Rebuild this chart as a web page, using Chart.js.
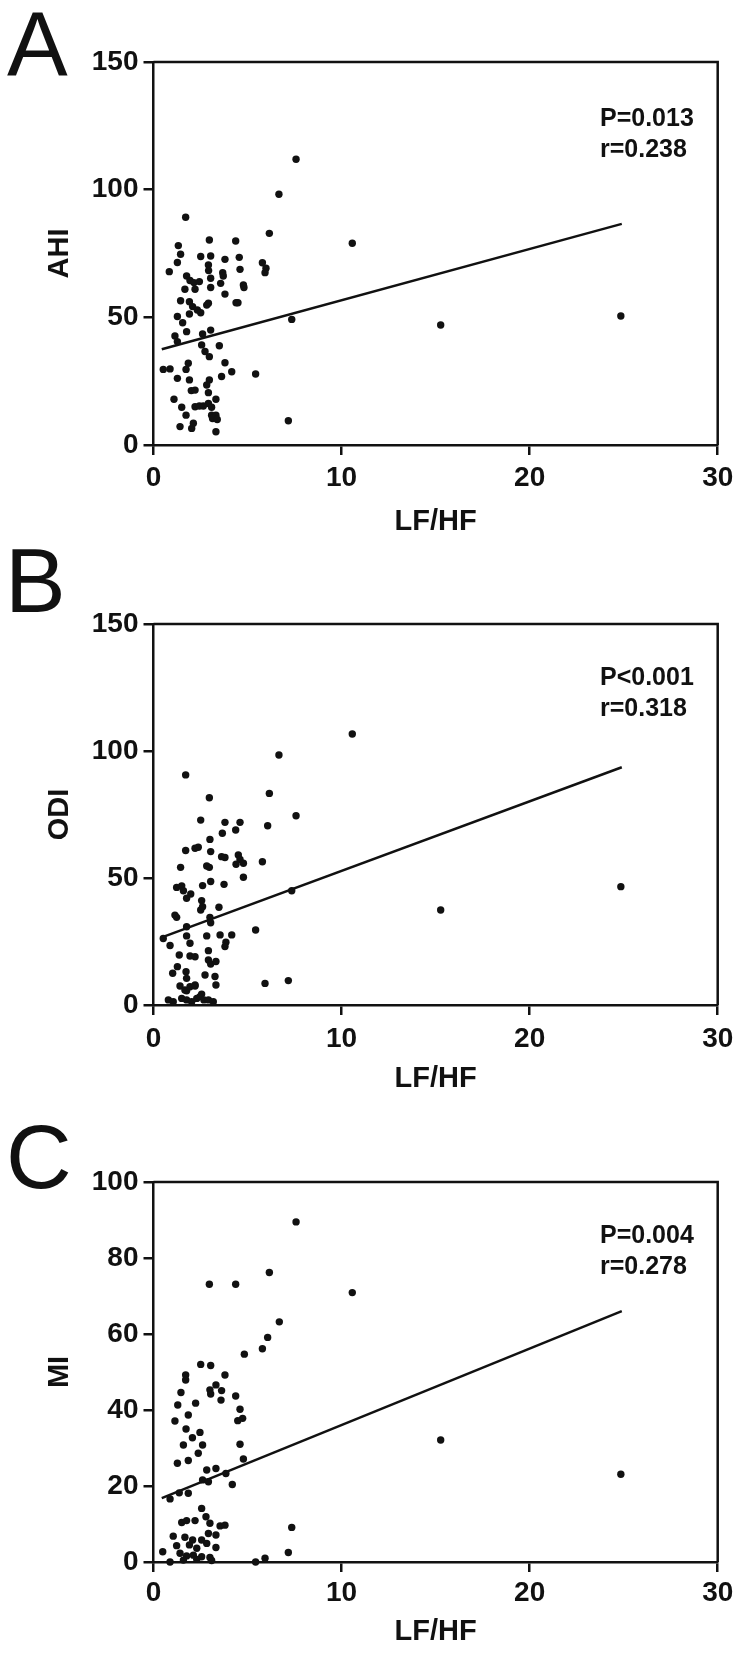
<!DOCTYPE html>
<html>
<head>
<meta charset="utf-8">
<title>LF/HF correlations</title>
<script src="https://cdn.jsdelivr.net/npm/chart.js"></script>
<style>
    html, body { margin: 0; padding: 0; background: #fff; }
    body { width: 743px; height: 1656px; position: relative; overflow: hidden; font-family: "Liberation Sans", Arial, sans-serif; color: #111; }
    .panel { position: absolute; left: 0; width: 743px; }
    .letter { position: absolute; font-size: 91px; line-height: 91px; }
    .stats { position: absolute; left: 600px; font-size: 25px; line-height: 31px; font-weight: bold; }
</style>
</head>
<body>

<div class="panel" style="top: 0px; height: 560px;"><canvas id="chartA" width="743" height="560"></canvas></div>
<div class="panel" style="top: 560px; height: 560px;"><canvas id="chartB" width="743" height="560"></canvas></div>
<div class="panel" style="top: 1120px; height: 536px;"><canvas id="chartC" width="743" height="536"></canvas></div>

<div class="letter" style="left: 7px; top: -2px;">A</div>
<div class="letter" style="left: 5px; top: 535px;">B</div>
<div class="letter" style="left: 6px; top: 1111px;">C</div>

<div class="stats" style="top: 102px;">P=0.013<br>r=0.238</div>
<div class="stats" style="top: 661px;">P&lt;0.001<br>r=0.318</div>
<div class="stats" style="top: 1219px;">P=0.004<br>r=0.278</div>

<script>
    // shared x axis
    const xTicks = [0, 10, 20, 30];

    // panel A: AHI
    const aLfhf = [7.58, 6.67, 1.71, 6.16, 10.57, 2.97, 4.37, 1.32, 1.44, 2.51, 3.04, 3.80, 4.56, 1.27, 0.84, 2.92, 2.93, 3.04, 3.68, 3.71,
        4.60, 5.79, 5.98, 5.93, 1.76, 1.94, 2.15, 2.44, 1.67, 2.21, 3.04, 3.57, 4.78, 4.81, 3.80, 4.39, 4.49, 1.44, 1.91, 2.83,
        2.92, 2.08, 2.33, 2.51, 1.91, 1.27, 1.55, 7.35, 1.76, 1.14, 2.61, 3.04, 1.27, 2.56, 2.74, 2.97, 3.50, 0.52, 0.88, 1.85,
        1.73, 1.27, 1.91, 3.80, 3.62, 4.16, 5.43, 2.97, 2.83, 2.01, 2.21, 1.09, 2.92, 3.32, 1.50, 1.73, 2.21, 2.44, 2.92, 3.09,
        3.32, 3.14, 1.41, 2.03, 2.12, 3.32, 7.17, 3.39, 2.65, 3.09, 15.27, 24.85];
    const aAhi = [111.9, 98.2, 89.2, 82.9, 79.0, 80.3, 79.9, 78.1, 74.7, 73.8, 74.0, 72.7, 73.5, 71.5, 67.9, 70.5, 68.3, 65.3, 67.5, 66.2,
        68.8, 71.4, 69.2, 67.5, 66.2, 64.4, 63.6, 64.0, 61.0, 61.0, 61.7, 63.3, 62.7, 61.7, 59.1, 55.7, 55.7, 56.5, 56.1, 54.8,
        55.5, 54.2, 52.9, 51.8, 51.3, 50.3, 47.9, 49.2, 44.4, 42.7, 43.5, 45.0, 40.5, 39.2, 36.6, 34.6, 38.9, 29.6, 29.8, 32.0,
        29.6, 26.1, 25.5, 32.2, 26.8, 28.7, 27.8, 25.5, 23.5, 21.3, 21.5, 17.9, 20.5, 17.9, 14.8, 11.7, 15.0, 15.3, 16.3, 11.7,
        11.7, 10.4, 7.2, 6.5, 8.5, 5.2, 9.5, 10.0, 15.3, 14.8, 47.0, 50.5];
    const aFitX = [0.44, 24.9];
    const aFitY = [37.5, 86.6];
    const aTicks = [0, 50, 100, 150];

    // panel B: ODI
    const bLfhf = [10.57, 6.67, 1.71, 2.97, 6.16, 7.58, 2.51, 3.80, 4.60, 3.66, 4.37, 6.07, 3.00, 1.71, 2.21, 2.38, 3.04, 3.62, 3.80, 4.51,
        4.60, 4.39, 4.78, 2.83, 2.97, 1.44, 5.79, 4.78, 3.04, 2.61, 3.75, 1.23, 1.50, 1.59, 1.98, 1.76, 7.35, 2.56, 2.51, 2.61,
        3.48, 1.23, 1.14, 3.00, 3.04, 1.76, 5.43, 0.52, 0.88, 1.76, 1.94, 2.83, 3.54, 4.16, 3.85, 3.80, 1.37, 1.94, 2.21, 2.92,
        2.92, 3.04, 3.32, 1.27, 1.02, 1.73, 1.76, 2.74, 3.27, 3.32, 1.41, 2.21, 1.76, 2.56, 5.93, 7.17, 0.79, 1.05, 1.50, 1.76,
        2.03, 2.30, 2.47, 2.68, 2.92, 3.18, 1.67, 1.94, 2.21, 15.27, 24.85];
    const bOdi = [106.7, 98.4, 90.6, 81.6, 83.3, 74.5, 72.8, 71.9, 71.9, 67.6, 68.9, 70.6, 65.2, 60.8, 61.7, 62.1, 60.4, 58.4, 58.1, 59.1,
        57.3, 55.4, 55.8, 54.7, 54.2, 54.2, 56.4, 50.3, 48.6, 47.0, 47.5, 46.3, 46.9, 45.0, 43.7, 42.0, 45.0, 41.1, 37.4, 38.7,
        38.5, 34.5, 35.4, 34.5, 32.4, 30.8, 29.5, 26.2, 23.4, 27.2, 24.3, 27.2, 27.6, 27.6, 24.7, 23.0, 19.7, 19.3, 19.0, 21.4,
        17.7, 16.1, 17.1, 15.1, 12.5, 13.1, 10.5, 11.8, 11.2, 7.9, 7.5, 7.5, 5.6, 4.3, 8.5, 9.6, 2.0, 1.3, 2.6, 2.0,
        1.3, 2.6, 3.3, 2.0, 2.0, 1.3, 5.9, 7.2, 7.9, 37.4, 46.6];
    const bFitX = [0.44, 24.9];
    const bFitY = [26.6, 93.6];
    const bTicks = [0, 50, 100, 150];

    // panel C: MI
    const cLfhf = [6.16, 2.97, 4.37, 10.57, 6.69, 6.07, 5.79, 4.83, 2.51, 3.04, 3.80, 1.71, 1.71, 3.32, 3.00, 3.04, 3.62, 3.59, 1.46, 4.37,
        2.24, 1.29, 1.85, 4.60, 4.74, 4.48, 1.14, 1.73, 2.47, 2.07, 2.61, 1.59, 2.38, 4.60, 4.78, 1.27, 1.85, 2.83, 3.32, 3.85,
        2.61, 2.92, 4.19, 0.88, 1.37, 1.85, 2.56, 2.79, 1.50, 1.76, 2.21, 3.00, 3.54, 3.80, 7.35, 1.05, 1.67, 2.08, 2.56, 2.92,
        3.32, 1.23, 1.91, 2.30, 2.83, 3.32, 0.49, 1.41, 1.76, 2.12, 2.56, 3.00, 0.88, 1.59, 2.30, 3.09, 5.43, 5.93, 7.17, 7.58,
        15.27, 24.85];
    const cMi = [76.2, 73.1, 73.1, 70.9, 63.2, 59.1, 56.1, 54.7, 52.0, 51.7, 49.2, 49.2, 47.9, 46.6, 45.3, 44.2, 45.1, 42.6, 44.6, 43.7,
        41.8, 41.3, 38.7, 40.2, 37.8, 37.2, 37.1, 35.0, 34.1, 32.7, 30.8, 30.8, 28.6, 31.0, 27.1, 26.0, 26.7, 24.2, 24.6, 23.3,
        21.6, 21.1, 20.4, 16.6, 18.2, 18.1, 14.1, 11.9, 10.4, 10.9, 10.9, 10.2, 9.5, 9.7, 9.1, 6.8, 6.5, 5.8, 5.8, 7.5,
        7.1, 4.3, 4.5, 3.6, 4.9, 3.8, 2.7, 2.3, 1.6, 1.8, 1.4, 1.2, 0.0, 0.5, 0.7, 0.4, 0.0, 1.0, 2.5, 89.5,
        32.1, 23.1];
    const cFitX = [0.44, 24.9];
    const cFitY = [16.8, 66.0];
    const cTicks = [0, 20, 40, 60, 80, 100];

    const ink = '#111';
    Chart.defaults.font.family = '"Liberation Sans", Arial, sans-serif';
    Chart.defaults.color = ink;

    // top and right edges of the box
    const framePlugin = {
        id: 'frame',
        afterDraw(chart) {
            const { ctx, chartArea: a } = chart;
            ctx.save();
            ctx.strokeStyle = ink;
            ctx.lineWidth = 2.5;
            ctx.beginPath();
            ctx.moveTo(a.left, a.top);
            ctx.lineTo(a.right, a.top);
            ctx.lineTo(a.right, a.bottom);
            ctx.stroke();
            ctx.restore();
        }
    };

    function toPoints(xs, ys) {
        return xs.map((x, i) => ({ x, y: ys[i] }));
    }

    function makePanel(id, p) {
        const step = p.yTicks[1] - p.yTicks[0];
        new Chart(document.getElementById(id), {
            type: 'scatter',
            data: {
                datasets: [
                    {
                        data: toPoints(p.x, p.y),
                        pointRadius: 3.7,
                        pointBackgroundColor: ink,
                        pointBorderWidth: 0,
                        clip: false
                    }, {
                        data: toPoints(p.fitX, p.fitY),
                        showLine: true,
                        borderColor: ink,
                        borderWidth: 2.5,
                        pointRadius: 0,
                        fill: false,
                        clip: false
                    }
                ]
            },
            options: {
                responsive: false,
                animation: false,
                events: [],
                layout: { padding: { top: p.top, right: 25.3, left: 0, bottom: p.padBottom } },
                plugins: { legend: { display: false }, tooltip: { enabled: false } },
                scales: {
                    x: {
                        type: 'linear',
                        min: xTicks[0],
                        max: xTicks[xTicks.length - 1],
                        ticks: { stepSize: xTicks[1] - xTicks[0], padding: p.xPad, font: { size: 28, weight: 'bold' } },
                        grid: { drawOnChartArea: false, tickLength: 10, lineWidth: 2.5, color: ink },
                        border: { display: true, color: ink, width: 2.5 },
                        title: { display: true, text: 'LF/HF', padding: { top: 0, bottom: 0 }, font: { size: 29, weight: 'bold', lineHeight: 1.2 } },
                        afterFit: s => { s.height = p.xHeight; }
                    },
                    y: {
                        type: 'linear',
                        min: p.yTicks[0],
                        max: p.yTicks[p.yTicks.length - 1],
                        ticks: { stepSize: step, padding: 5, font: { size: 28, weight: 'bold' } },
                        grid: { drawOnChartArea: false, tickLength: 10, lineWidth: 2.5, color: ink },
                        border: { display: true, color: ink, width: 2.5 },
                        title: { display: true, text: p.yTitle, padding: { top: 42.6, bottom: 0 }, font: { size: 29, weight: 'bold', lineHeight: 1.2 } },
                        afterFit: s => { s.width = 153.5; }
                    }
                }
            },
            plugins: [framePlugin]
        });
    }

    makePanel('chartA', { x: aLfhf, y: aAhi, fitX: aFitX, fitY: aFitY, yTicks: aTicks, yTitle: 'AHI',
        top: 62, padBottom: 20.6, xHeight: 94.4, xPad: 6.7 });
    makePanel('chartB', { x: bLfhf, y: bOdi, fitX: bFitX, fitY: bFitY, yTicks: bTicks, yTitle: 'ODI',
        top: 64, padBottom: 23.6, xHeight: 91.4, xPad: 7.2 });
    makePanel('chartC', { x: cLfhf, y: cMi, fitX: cFitX, fitY: cFitY, yTicks: cTicks, yTitle: 'MI',
        top: 62, padBottom: 6.6, xHeight: 87.4, xPad: 4 });
</script>
</body>
</html>
